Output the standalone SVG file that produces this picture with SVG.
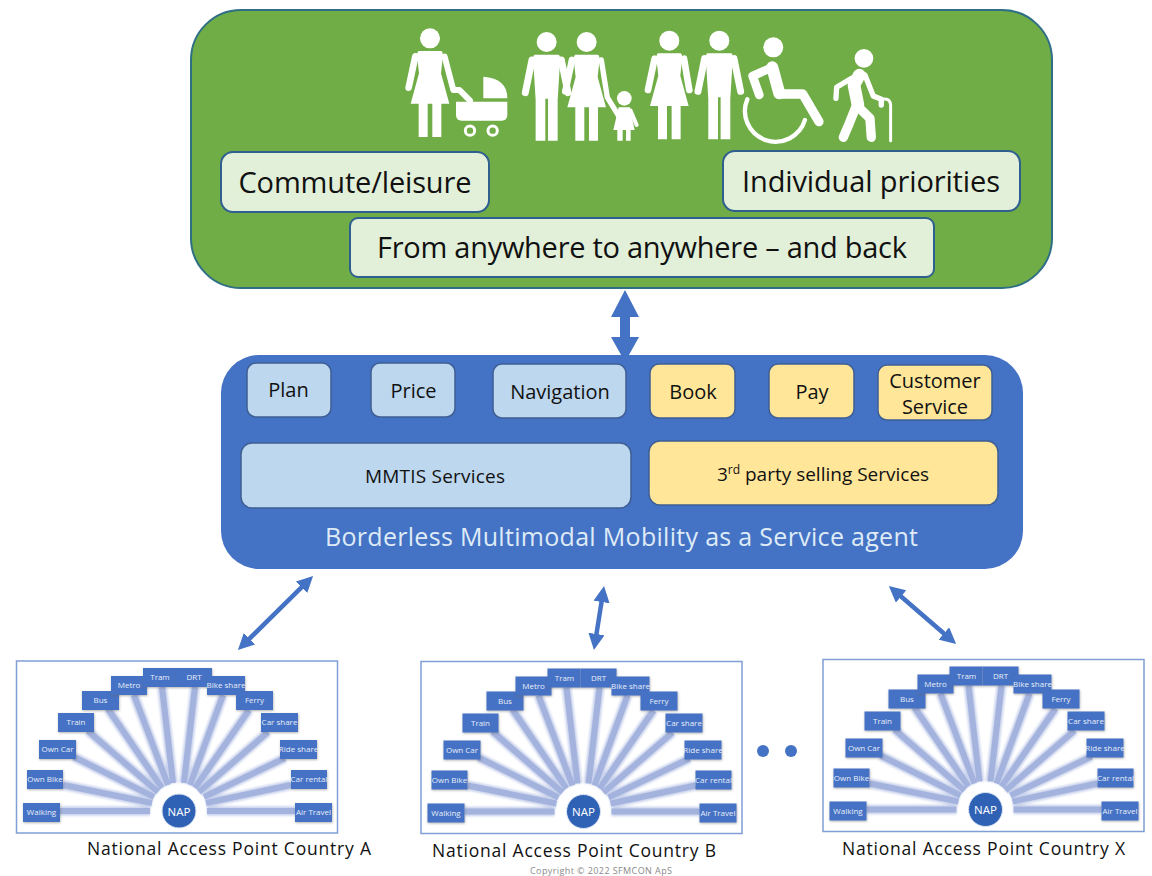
<svg xmlns="http://www.w3.org/2000/svg" width="1152" height="876" viewBox="0 0 1152 876">
<style>
text{font-family:"Open Sans","Noto Sans","Liberation Sans",sans-serif;text-anchor:middle}
.top{font-size:29px;fill:#111}
.svc{font-size:20px;fill:#111}
.s2{font-size:19px;fill:#111}
.inner{stroke:#3f5f94;stroke-width:1.5}
.lb{fill:#bdd7ee}
.yl{fill:#ffe699}
.gb{fill:#e2f0d9;stroke:#2f5f8f;stroke-width:2}
.panel{fill:#fff;stroke:#7f9fd6;stroke-width:1.5}
.box{fill:#4472c4;filter:url(#sh)}
.bt{font-size:8px;fill:#e8eefa}
.cap{font-size:17.5px;fill:#111}
.sp{fill:none;stroke:#a3b3de;stroke-width:6}
.sp2{fill:none;stroke:#c9d2ec;stroke-width:9.500;filter:url(#bl)}
.lim{fill:none;stroke:#fff;stroke-linejoin:round;stroke-linecap:round}
</style>
<defs>
<filter id="bl" x="-20%" y="-20%" width="140%" height="140%"><feGaussianBlur stdDeviation="0.8"/></filter>
<filter id="sh" x="-20%" y="-20%" width="140%" height="150%"><feDropShadow dx="0.5" dy="1" stdDeviation="1" flood-color="#666" flood-opacity="0.5"/></filter>
<marker id="ah" viewBox="0 0 10 10" refX="5" refY="5" markerWidth="3.600" markerHeight="3.600" orient="auto-start-reverse"><path d="M0,0 L10,5 L0,10 Z" fill="#4472c4"/></marker>
<g id="man"><circle r="30" fill="#fff"/><path fill="#fff" d="M-36,38 H36 Q42,40 40,62 L33,175 V296 H4 V170 H-4 V296 H-33 V175 L-40,62 Q-42,40 -36,38Z"/><path class="lim" stroke-width="21" d="M44,54 L64,152 M-44,54 L-64,152"/></g>
<g id="woman"><circle r="30" fill="#fff"/><path fill="#fff" d="M-34,38 H34 Q40,40 38,60 L33,105 L58,196 H34 V296 H7 V196 H-7 V296 H-34 V196 H-58 L-33,105 L-38,60 Q-40,40 -34,38Z"/><path class="lim" stroke-width="20" d="M-44,54 L-64,148"/></g>
<g id="spokes">
<path class="sp2" d="M60,811H150M63,785L152,803M74,757L154,797M88,731L158,792M108,709L162,788M134,695L168,785M162,687L173,783M195,687L184,783M223,695L190,785M249,710L195,788M268,732L199,792M285,758L204,797M291,785L206,803M295,811H207"/>
<path class="sp" d="M60,811H150M63,785L152,803M74,757L154,797M88,731L158,792M108,709L162,788M134,695L168,785M162,687L173,783M195,687L184,783M223,695L190,785M249,710L195,788M268,732L199,792M285,758L204,797M291,785L206,803M295,811H207"/>
</g>
<g id="boxes">
<rect class="box" x="23" y="803" width="37" height="19"/><rect class="box" x="27" y="770" width="36" height="19"/><rect class="box" x="39" y="740" width="37" height="19"/><rect class="box" x="58" y="713" width="36" height="19"/><rect class="box" x="82" y="691" width="37" height="19"/><rect class="box" x="111" y="676" width="36" height="19"/><rect class="box" x="143" y="668" width="33" height="19"/><rect class="box" x="176" y="668" width="36" height="19"/><rect class="box" x="207" y="676" width="38" height="19"/><rect class="box" x="236" y="691" width="37" height="19"/><rect class="box" x="261" y="713" width="37" height="19"/><rect class="box" x="280" y="740" width="37" height="19"/><rect class="box" x="291" y="770" width="36" height="19"/><rect class="box" x="295" y="803" width="37" height="19"/>
<circle cx="179" cy="811" r="17" fill="#2f62b5" stroke="#dfe6f5" stroke-width="1"/>
</g>
</defs>
<rect width="1152" height="876" fill="#fff"/>

<g id="connectors">
<path fill="#4472c4" d="M625,290 L639,317 H630 V337 H639 L625,362 L611,337 H620 V317 H611 Z"/>
<line x1="307.300" y1="581.600" x2="243.700" y2="644.400" stroke="#4472c4" stroke-width="4.500" marker-start="url(#ah)" marker-end="url(#ah)"/>
<line x1="602.800" y1="594" x2="595.200" y2="642" stroke="#4472c4" stroke-width="4.500" marker-start="url(#ah)" marker-end="url(#ah)"/>
<line x1="895" y1="591.200" x2="950" y2="638.800" stroke="#4472c4" stroke-width="4.500" marker-start="url(#ah)" marker-end="url(#ah)"/>
</g>

<g id="users">
<rect x="191" y="10" width="861" height="278" rx="50" fill="#70ad47" stroke="#2f6f85" stroke-width="2"/>
<g id="people" transform="translate(390 10) scale(0.3333)">
<use href="#woman" x="120" y="85"/>
<path class="lim" stroke-width="18" d="M164,140 L190,240 H208 L240,272"/>
<path fill="#fff" d="M198,275 H352 V315 Q352,332 335,332 H215 Q198,332 198,315Z M280,200 Q352,205 352,265 H280Z"/>
<circle cx="240" cy="362" r="14" fill="none" stroke="#fff" stroke-width="9"/><circle cx="308" cy="362" r="14" fill="none" stroke="#fff" stroke-width="9"/>
<use href="#man" x="470" y="96"/>
<use href="#woman" x="590" y="96"/>
<path class="lim" stroke-width="16" d="M634,150 L652,262 L686,318"/>
<circle cx="703" cy="265" r="22" fill="#fff"/>
<path fill="#fff" d="M686,292 H720 L734,360 H722 V392 H708 V360 H698 V392 H682 V360 H670Z"/>
<path class="lim" stroke-width="12" d="M722,302 L740,345"/>
<use href="#woman" x="838" y="92"/>
<path class="lim" stroke-width="20" d="M882,146 L898,240"/>
<use href="#man" x="988" y="92"/>
<circle cx="1150" cy="112" r="30" fill="#fff"/>
<path class="lim" stroke-width="36" d="M1147,172 L1168,250"/>
<path class="lim" stroke-width="28" d="M1168,252 H1238 L1287,335"/>
<path class="lim" stroke-width="26" d="M1147,172 L1088,198 L1108,255"/>
<path class="lim" stroke-width="13" d="M1072,268 A92,92 0 1 0 1245,330"/>
<circle cx="1422" cy="145" r="28" fill="#fff"/>
<path class="lim" stroke-width="38" d="M1408,195 L1392,225 L1404,285"/>
<path class="lim" stroke-width="28" d="M1404,290 L1440,325 L1444,382 M1398,290 L1378,340 L1360,382"/>
<path class="lim" stroke-width="16" d="M1385,205 L1340,232 L1338,265 M1425,195 L1450,258 L1474,268 L1474,285"/>
<path class="lim" stroke-width="9" d="M1474,268 Q1500,262 1502,285 V392"/>
</g>
<g id="commute"><rect class="gb" x="221" y="152" width="268" height="60" rx="12"/><text class="top" x="355" y="193" textLength="233">Commute/leisure</text></g>
<g id="priorities"><rect class="gb" x="723" y="151" width="297" height="60" rx="12"/><text class="top" x="871" y="192" textLength="258">Individual priorities</text></g>
<g id="anywhere"><rect class="gb" x="350" y="218" width="584" height="59" rx="8"/><text class="top" x="642" y="258" textLength="530">From anywhere to anywhere – and back</text></g>
</g>

<g id="agent">
<rect x="221" y="355" width="802" height="214" rx="38" fill="#4472c4"/>
<g id="plan"><rect class="inner lb" x="247" y="363" width="84" height="54" rx="9"/><text class="svc" x="288.500" y="397">Plan</text></g>
<g id="price"><rect class="inner lb" x="371" y="363" width="84" height="54" rx="9"/><text class="svc" x="413.500" y="398">Price</text></g>
<g id="navigation"><rect class="inner lb" x="493" y="364" width="133" height="54" rx="9"/><text class="svc" x="560" y="399">Navigation</text></g>
<g id="book"><rect class="inner yl" x="650" y="364" width="85" height="54" rx="9"/><text class="svc" x="693" y="399">Book</text></g>
<g id="pay"><rect class="inner yl" x="769" y="364" width="85" height="54" rx="9"/><text class="svc" x="812" y="399">Pay</text></g>
<g id="customer"><rect class="inner yl" x="878" y="365" width="114" height="55" rx="9"/><text class="svc" x="935" y="388">Customer</text><text class="svc" x="935" y="414">Service</text></g>
<g id="mmtis"><rect class="inner lb" x="241" y="443" width="390" height="65" rx="11"/><text class="s2" x="435" y="483" textLength="140">MMTIS Services</text></g>
<g id="selling"><rect class="inner yl" x="649" y="441" width="349" height="64" rx="11"/><text class="s2" x="823" y="481">3<tspan font-size="12" dy="-7">rd</tspan><tspan dy="7"> party selling Services</tspan></text></g>
<text x="621.500" y="546" font-size="25" fill="#deebf7" textLength="593">Borderless Multimodal Mobility as a Service agent</text>
</g>

<g id="nap-a">
<rect class="panel" x="16.500" y="661" width="321" height="172"/>
<use href="#spokes"/><use href="#boxes"/>
<g class="bt"><text class="bt" x="41.500" y="815">Walking</text><text class="bt" x="45" y="782">Own Bike</text><text class="bt" x="57.500" y="752">Own Car</text><text class="bt" x="76" y="725">Train</text><text class="bt" x="100.500" y="703">Bus</text><text class="bt" x="129" y="688">Metro</text><text class="bt" x="160" y="680">Tram</text><text class="bt" x="194" y="680">DRT</text><text class="bt" x="226" y="688">Bike share</text><text class="bt" x="254.500" y="703">Ferry</text><text class="bt" x="279.500" y="725">Car share</text><text class="bt" x="298.500" y="752">Ride share</text><text class="bt" x="309" y="782">Car rental</text><text class="bt" x="313.500" y="815">Air Travel</text><text x="179" y="815.500" font-size="11.500" fill="#fff">NAP</text></g>
</g>
<g id="nap-b" transform="translate(404.500 0.500)">
<rect class="panel" x="16.500" y="661" width="321" height="172"/>
<use href="#spokes"/><use href="#boxes"/>
<g class="bt"><text class="bt" x="41.500" y="815">Walking</text><text class="bt" x="45" y="782">Own Bike</text><text class="bt" x="57.500" y="752">Own Car</text><text class="bt" x="76" y="725">Train</text><text class="bt" x="100.500" y="703">Bus</text><text class="bt" x="129" y="688">Metro</text><text class="bt" x="160" y="680">Tram</text><text class="bt" x="194" y="680">DRT</text><text class="bt" x="226" y="688">Bike share</text><text class="bt" x="254.500" y="703">Ferry</text><text class="bt" x="279.500" y="725">Car share</text><text class="bt" x="298.500" y="752">Ride share</text><text class="bt" x="309" y="782">Car rental</text><text class="bt" x="313.500" y="815">Air Travel</text><text x="179" y="815.500" font-size="11.500" fill="#fff">NAP</text></g>
</g>
<g id="nap-x" transform="translate(806.500 -1.500)">
<rect class="panel" x="16.500" y="661" width="321" height="172"/>
<use href="#spokes"/><use href="#boxes"/>
<g class="bt"><text class="bt" x="41.500" y="815">Walking</text><text class="bt" x="45" y="782">Own Bike</text><text class="bt" x="57.500" y="752">Own Car</text><text class="bt" x="76" y="725">Train</text><text class="bt" x="100.500" y="703">Bus</text><text class="bt" x="129" y="688">Metro</text><text class="bt" x="160" y="680">Tram</text><text class="bt" x="194" y="680">DRT</text><text class="bt" x="226" y="688">Bike share</text><text class="bt" x="254.500" y="703">Ferry</text><text class="bt" x="279.500" y="725">Car share</text><text class="bt" x="298.500" y="752">Ride share</text><text class="bt" x="309" y="782">Car rental</text><text class="bt" x="313.500" y="815">Air Travel</text><text x="179" y="815.500" font-size="11.500" fill="#fff">NAP</text></g>
</g>
<circle cx="763" cy="751" r="6" fill="#4472c4"/><circle cx="791" cy="751" r="6" fill="#4472c4"/>
<text class="cap" x="229" y="855" textLength="284">National Access Point Country A</text>
<text class="cap" x="574" y="857" textLength="284">National Access Point Country B</text>
<text class="cap" x="983.500" y="855" textLength="283">National Access Point Country X</text>
<text x="601" y="874" font-size="9" fill="#8a8a8a" textLength="142">Copyright © 2022 SFMCON ApS</text>
</svg>
